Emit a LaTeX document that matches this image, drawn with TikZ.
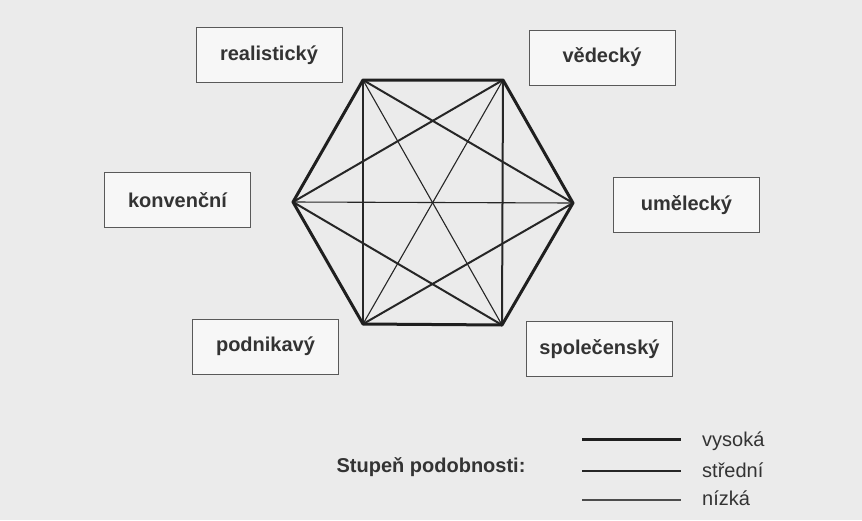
\documentclass[tikz,border=0pt]{standalone}
\usepackage{fontspec}
\setmainfont{Liberation Sans}
\begin{document}
\begin{tikzpicture}[x=1pt,y=-1pt,
  catbox/.style={draw=black!65,line width=0.9pt,fill=white!97!black,minimum width=146pt,minimum height=55pt,inner sep=0pt,text=black!80,font=\fontsize{20}{24}\selectfont\bfseries},
  hi/.style={draw=black!88,line width=3pt,line join=round,line cap=round},
  mid/.style={draw=black!85,line width=2pt,line cap=round},
  lo/.style={draw=black!85,line width=1.1pt,line cap=round},
  legtext/.style={anchor=west,inner sep=0pt,text=black!80,font=\fontsize{20}{24}\selectfont}]
\fill[black!8] (0,0) rectangle (862,520);
\useasboundingbox (0,0) rectangle (862,520);
% hexagon vertices
\coordinate (TL) at (363,80);
\coordinate (TR) at (503,80);
\coordinate (R) at (573,203);
\coordinate (BR) at (502,325);
\coordinate (BL) at (363,324);
\coordinate (L) at (293,202);
% low
\draw[lo] (TL) -- (BR);
\draw[lo] (TR) -- (BL);
\draw[lo] (L) -- (R);
% medium
\draw[mid] (TL) -- (BL);
\draw[mid] (TR) -- (BR);
\draw[mid] (L) -- (TR);
\draw[mid] (L) -- (BR);
\draw[mid] (R) -- (TL);
\draw[mid] (R) -- (BL);
% high
\draw[hi] (TL) -- (TR) -- (R) -- (BR) -- (BL) -- (L) -- cycle;
% boxes
\node[catbox] (real) at (269,55) {realistický};
\node[catbox] (ved) at (602,57.5) {vědecký};
\node[catbox] (konv) at (177.5,200) {konvenční};
\node[catbox] (umel) at (686.5,205) {umělecký};
\node[catbox] (podn) at (265.5,346.5) {podnikavý};
\node[catbox] (spol) at (599.5,349) {společenský};
% legend
\node[inner sep=0pt,text=black!80,font=\fontsize{20}{24}\selectfont\bfseries] (stup) at (431,467) {Stupeň podobnosti:};
\coordinate (a1) at (582,439); \coordinate (a2) at (681,439);
\coordinate (b1) at (582,471); \coordinate (b2) at (681,471);
\coordinate (c1) at (582,500); \coordinate (c2) at (681,500);
\draw[hi,line cap=butt] (a1) -- (a2);
\draw[mid,line cap=butt] (b1) -- (b2);
\draw[lo,line cap=butt,draw=black!70] (c1) -- (c2);
\node[legtext] (vys) at (702,441) {vysoká};
\node[legtext] (str) at (702,470) {střední};
\node[legtext] (niz) at (702,498) {nízká};
\end{tikzpicture}
\end{document}
